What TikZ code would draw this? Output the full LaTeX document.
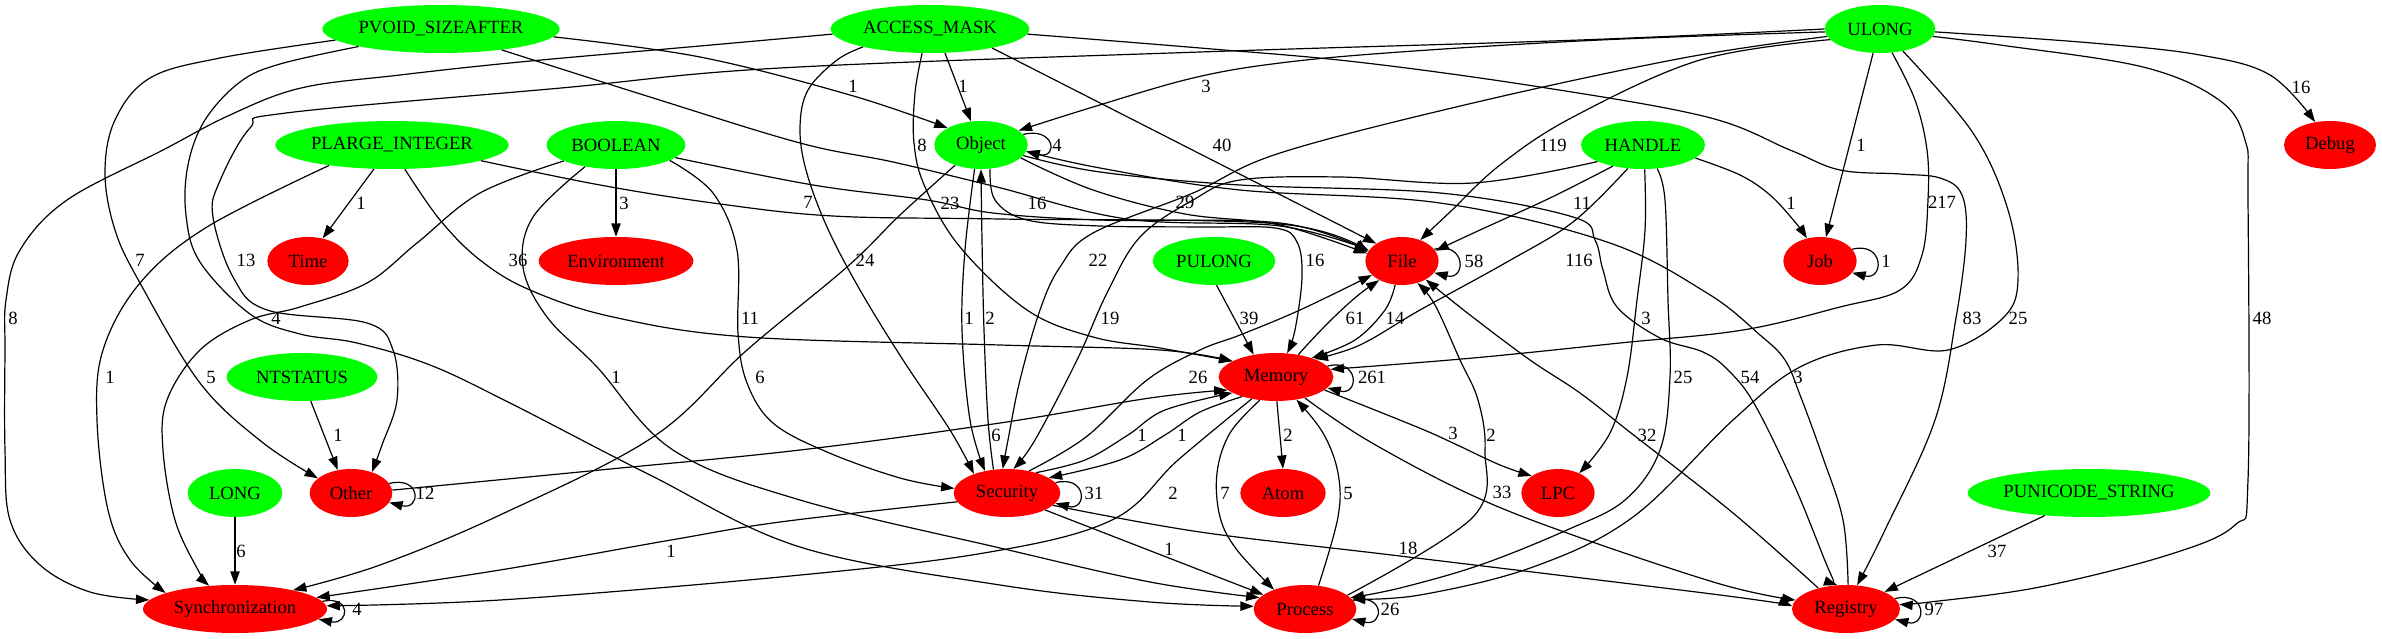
\documentclass[tikz,border=0pt]{standalone}
\usepackage{fontspec}
\setmainfont{Liberation Serif}
\usetikzlibrary{shapes.geometric,arrows.meta}

\begin{document}
\begin{tikzpicture}[x=0.75pt,y=-0.75pt,font=\fontsize{14pt}{16pt}\selectfont]
\edef\heightnode{36pt}
\tikzstyle{typenode}=[ellipse,fill=green,inner sep=0pt,minimum height=\heightnode]
\tikzstyle{catnode}=[ellipse,fill=red,inner sep=0pt,minimum height=\heightnode]
\tikzstyle{flow}=[line width=0.9pt,-{Triangle[length=10pt,width=7pt]}]
\tikzstyle{cnt}=[inner sep=0pt]
\tikzstyle{route}=[smooth,tension=0.6]

\useasboundingbox (0,0) rectangle (2382,639);

%% Draw type nodes
\node[typenode,minimum width=178pt] (PV) at (441,29) {PVOID\_SIZEAFTER};
\node[typenode,minimum width=149pt] (AM) at (930,29) {ACCESS\_MASK};
\node[typenode,minimum width=83pt] (UL) at (1880,29) {ULONG};
\node[typenode,minimum width=175pt] (PL) at (392,145) {PLARGE\_INTEGER};
\node[typenode,minimum width=104pt] (BO) at (616,145) {BOOLEAN};
\node[typenode,minimum width=70pt] (OB) at (981,145) {Object};
\node[typenode,minimum width=93pt] (HA) at (1643,145) {HANDLE};
\node[typenode,minimum width=92pt] (PU) at (1214,261) {PULONG};
\node[typenode,minimum width=113pt] (NT) at (302,377) {NTSTATUS};
\node[typenode,minimum width=71pt] (LO) at (235,493) {LONG};
\node[typenode,minimum width=182pt] (PS) at (2089,493) {PUNICODE\_STRING};

%% Draw categories
\node[catnode,minimum width=69pt] (DE) at (2330,145) {Debug};
\node[catnode,minimum width=61pt] (TI) at (308,261) {Time};
\node[catnode,minimum width=116pt] (EN) at (616,261) {Environment};
\node[catnode,minimum width=55pt] (FI) at (1402,261) {File};
\node[catnode,minimum width=55pt] (JO) at (1820,261) {Job};
\node[catnode,minimum width=86pt] (ME) at (1276,377) {Memory};
\node[catnode,minimum width=62pt] (OT) at (351,493) {Other};
\node[catnode,minimum width=80pt] (SE) at (1007,493) {Security};
\node[catnode,minimum width=64pt] (AT) at (1283,493) {Atom};
\node[catnode,minimum width=55pt] (LP) at (1558,493) {LPC};
\node[catnode,minimum width=138pt] (SY) at (235,609) {Synchronization};
\node[catnode,minimum width=77pt] (PR) at (1305,609) {Process};
\node[catnode,minimum width=81pt] (RE) at (1846,609) {Registry};

%% PVOID_SIZEAFTER
\draw[flow] plot[route] coordinates {(PV.-4) (700,57) (850,95) (OB.153)} node[cnt] at (853,86) {1};
\draw[flow] plot[route] coordinates {(PV.-19) (650,97) (800,143) (893,162) (993,186) (1127,219) (1280,226) (FI.162)} node[cnt] at (922,145) {8};
\draw[flow] plot[route] coordinates {(PV.186) (220,58) (150,78) (115,120) (105,173) (115,230) (140,283) (200,383) (262,442) (OT.156)} node[cnt] at (140,260) {7};
\draw[flow] plot[route] coordinates {(PV.192) (280,64) (240,82) (205,120) (188,165) (186,215) (200,262) (250,314) (300,334) (357,343) (430,365) (510,403) (650,475) (800,547) (1000,585) (1150,602) (PR.177)} node[cnt] at (276,318) {4};

%% ACCESS_MASK
\draw[flow] plot[route] coordinates {(AM.183) (700,46) (520,62) (400,75) (301,88) (230,115) (163,150) (67,200) (20,250) (6,300) (5,350) (5,450) (10,520) (40,565) (90,592) (SY.174)} node[cnt] at (13,318) {8};
\draw[flow] plot[route] coordinates {(AM.195) (837,60) (808,90) (800,127) (806,170) (827,227) (860,290) (903,360) (950,430) (SE.150)} node[cnt] at (865,260) {24};
\draw[flow] plot[route] coordinates {(AM.252) (915,93) (914,143) (925,187) (960,247) (1027,310) (1093,337) (1160,348) (ME.160)} node[cnt] at (950,203) {23};
\draw[flow] (AM.-58) -- (OB.113) node[cnt] at (963,86) {1};
\draw[flow] (AM.-17) -- (FI.146) node[cnt] at (1222,145) {40};
\draw[flow] plot[route] coordinates {(AM.-3) (1200,48) (1357,62) (1540,87) (1707,117) (1790,150) (1840,170) (1900,174) (1940,178) (1962,195) (1966,240) (1956,318) (1935,420) (1885,530) (RE.65)} node[cnt] at (1972,318) {83};

%% ULONG
\draw[flow] plot[route] coordinates {(UL.183) (1600,40) (1400,52) (1280,63) (1193,78) (1093,107) (OB.21)} node[cnt] at (1206,86) {3};
\draw[flow] plot[route] coordinates {(UL.-3) (2092,43) (2200,55) (2270,75) (DE.123)} node[cnt] at (2301,87) {16};
\draw[flow] plot[route] coordinates {(UL.192) (1700,60) (1573,117) (1500,165) (1450,212) (FI.49)} node[cnt] at (1553,145) {119};
\draw[flow] (UL.254) -- (JO.76) node[cnt] at (1861,145) {1};
\draw[flow] plot[route] coordinates {(UL.-63) (1915,100) (1927,150) (1928,200) (1922,255) (1900,290) (1840,307) (1743,330) (1620,343) (1473,358) (ME.8)} node[cnt] at (1942,202) {217};
\draw[flow] plot[route] coordinates {(UL.-44) (1973,133) (2008,210) (2018,280) (2003,318) (1948,350) (1877,345) (1800,367) (1733,420) (1633,517) (1533,567) (1420,595) (PR.12)} node[cnt] at (2018,318) {25};
\draw[flow] plot[route] coordinates {(UL.188) (1683,58) (1473,103) (1280,153) (1193,193) (1093,233) (1060,267) (1040,310) (1020,380) (1008,440) (SE.100)} node[cnt] at (1098,260) {22};
\draw[flow] plot[route] coordinates {(UL.-8) (2000,45) (2143,67) (2219,100) (2245,140) (2248,200) (2248,480) (2235,525) (2168,555) (2040,587) (1930,602) (RE.5)} node[cnt] at (2262,318) {48};
\draw[flow] plot[route] coordinates {(UL.180) (1580,40) (1200,52) (780,68) (561,88) (286,113) (250,128) (219,183) (213,217) (233,277) (267,310) (367,323) (393,350) (397,400) (382,445) (OT.45)} node[cnt] at (246,260) {13};

%% PLARGE_INTEGER
\draw[flow] (PL.-127) -- (TI.57) node[cnt] at (361,203) {1};
\draw[flow] plot[route] coordinates {(PL.-10) (600,185) (713,203) (833,216) (1000,219) (1280,224) (FI.166)} node[cnt] at (808,202) {7};
\draw[flow] plot[route] coordinates {(PL.-62) (440,220) (480,260) (530,290) (613,317) (747,337) (1000,345) (1160,350) (ME.160)} node[cnt] at (518,260) {36};
\draw[flow] plot[route] coordinates {(PL.198) (207,227) (140,283) (103,350) (97,420) (108,510) (130,560) (SY.167)} node[cnt] at (110,377) {1};

%% BOOLEAN
\draw[flow] (BO.-90) -- (EN.90) node[cnt] at (624,203) {3};
\draw[flow] plot[route] coordinates {(BO.-12) (813,185) (927,200) (993,213) (1100,220) (1280,223) (FI.164)} node[cnt] at (1037,203) {16};
\draw[flow] plot[route] coordinates {(BO.197) (480,193) (417,243) (367,283) (300,307) (250,320) (200,350) (167,400) (163,450) (175,520) (198,570) (SY.138)} node[cnt] at (211,377) {5};
\draw[flow] plot[route] coordinates {(BO.215) (533,217) (523,267) (547,317) (597,367) (673,450) (800,500) (1000,548) (1150,582) (PR.166)} node[cnt] at (616,377) {1};
\draw[flow] plot[route] coordinates {(BO.-16) (713,193) (737,250) (738,333) (747,383) (773,423) (827,452) (900,478) (SE.175)} node[cnt] at (750,318) {11};

%% Object
\draw[flow] (OB.14) .. controls +(32,-8) and +(32,8) .. (OB.-8) node[cnt] at (1057,145) {4};
\draw[flow] plot[route] coordinates {(OB.255) (965,250) (962,330) (970,420) (SE.135)} node[cnt] at (969,318) {1};
\draw[flow] plot[route] coordinates {(OB.218) (900,215) (847,267) (747,350) (653,437) (500,515) (380,565) (SY.18)} node[cnt] at (760,377) {6};
\draw[flow] plot[route] coordinates {(OB.-18) (1093,190) (1185,214) (1280,225) (FI.168)} node[cnt] at (1185,202) {29};
\draw[flow] plot[route] coordinates {(OB.-69) (995,200) (1027,220) (1100,226) (1200,227) (1275,228) (1297,242) (1302,277) (1295,330) (ME.65)} node[cnt] at (1315,260) {16};
\draw[flow] plot[route] coordinates {(OB.-14) (1100,172) (1240,185) (1440,193) (1573,217) (1595,240) (1603,270) (1617,307) (1660,338) (1703,352) (1728,370) (1755,405) (1795,487) (1828,568) (RE.110)} node[cnt] at (1750,377) {54};

%% HANDLE
\draw[flow] plot[route] coordinates {(HA.215) (1550,198) (1480,230) (FI.17)} node[cnt] at (1582,203) {11};
\draw[flow] plot[route] coordinates {(HA.-14) (1740,175) (1770,195) (1795,222) (JO.120)} node[cnt] at (1791,203) {1};
\draw[flow] plot[route] coordinates {(HA.237) (1573,222) (1507,262) (1420,310) (1360,345) (ME.25)} node[cnt] at (1579,260) {116};
\draw[flow] plot[route] coordinates {(HA.-86) (1645,230) (1637,300) (1627,377) (1610,433) (LP.43)} node[cnt] at (1646,318) {3};
\draw[flow] plot[route] coordinates {(HA.-59) (1665,200) (1668,300) (1670,377) (1660,450) (1625,500) (1567,530) (1480,565) (1400,588) (PR.14)} node[cnt] at (1683,377) {25};
\draw[flow] plot[route] coordinates {(HA.200) (1473,183) (1340,177) (1240,180) (1193,200) (1140,237) (1107,293) (1077,360) (1035,440) (SE.75)} node[cnt] at (1110,318) {19};

%% PULONG, NTSTATUS, LONG, PUNICODE_STRING
\draw[flow] (PU.-84) -- (ME.135) node[cnt] at (1249,318) {39};
\draw[flow] (NT.-70) -- (OT.120) node[cnt] at (338,435) {1};
\draw[flow] (LO.-90) -- (SY.90) node[cnt] at (241,551) {6};
\draw[flow] (PS.207) -- (RE.24) node[cnt] at (1997,551) {37};

%% File
\draw[flow] (FI.20) .. controls +(32,-8) and +(32,8) .. (FI.-20) node[cnt] at (1474,261) {58};
\draw[flow] plot[route] coordinates {(FI.254) (1385,310) (1355,340) (ME.28)} node[cnt] at (1395,318) {14};

%% Memory
\draw[flow] (ME.12) .. controls +(32,-8) and +(32,8) .. (ME.-12) node[cnt] at (1372,377) {261};
\draw[flow] (ME.45) .. controls (1320,330) and (1350,300) .. (FI.220) node[cnt] at (1355,318) {61};
\draw[flow] (ME.-88) -- (AT.90) node[cnt] at (1288,435) {2};
\draw[flow] plot[route] coordinates {(ME.-15) (1417,427) (1453,443) (1500,465) (LP.147)} node[cnt] at (1453,433) {3};
\draw[flow] plot[route] coordinates {(ME.235) (1230,433) (1217,473) (1220,517) (1237,550) (PR.148)} node[cnt] at (1225,493) {7};
\draw[flow] plot[route] coordinates {(ME.222) (1178,460) (1112,520) (984,553) (780,577) (500,600) (SY.2)} node[cnt] at (1173,493) {2};
\draw[flow] plot[route] coordinates {(ME.-36) (1367,440) (1467,493) (1567,533) (1720,584) (RE.170)} node[cnt] at (1502,492) {33};
\draw[flow] plot[route] coordinates {(ME.210) (1200,412) (1165,435) (1120,460) (SE.20)} node[cnt] at (1182,435) {1};

%% Other
\draw[flow] (OT.14) .. controls +(32,-8) and +(32,8) .. (OT.-14) node[cnt] at (425,493) {12};
\draw[flow] plot[route] coordinates {(OT.4) (600,470) (800,450) (1000,423) (1150,398) (ME.195)} node[cnt] at (996,435) {6};

%% Security
\draw[flow] (SE.12) .. controls +(32,-8) and +(32,8) .. (SE.-12) node[cnt] at (1094,493) {31};
\draw[flow] plot[route] coordinates {(SE.120) (988,420) (984,330) (982,240) (OB.270)} node[cnt] at (990,318) {2};
\draw[flow] plot[route] coordinates {(SE.35) (1085,460) (1128,435) (1165,410) (ME.200)} node[cnt] at (1142,435) {1};
\draw[flow] plot[route] coordinates {(SE.45) (1086,437) (1147,380) (1200,350) (1240,335) (1300,310) (FI.205)} node[cnt] at (1198,377) {26};
\draw[flow] plot[route] coordinates {(SE.190) (780,522) (671,540) (500,570) (SY.8)} node[cnt] at (671,551) {1};
\draw[flow] (SE.-24) -- (PR.161) node[cnt] at (1169,549) {1};
\draw[flow] plot[route] coordinates {(SE.-15) (1200,532) (1400,556) (1720,595) (RE.177)} node[cnt] at (1408,548) {18};

%% Process
\draw[flow] (PR.10) .. controls +(32,-8) and +(32,8) .. (PR.-12) node[cnt] at (1390,609) {26};
\draw[flow] plot[route] coordinates {(PR.18) (1473,517) (1485,450) (1478,400) (1460,360) (1435,305) (FI.-55)} node[cnt] at (1491,435) {2};
\draw[flow] plot[route] coordinates {(PR.60) (1338,517) (1338,473) (1323,433) (ME.-48)} node[cnt] at (1348,493) {5};

%% Registry
\draw[flow] (RE.12) .. controls +(32,-8) and +(32,8) .. (RE.-12) node[cnt] at (1934,609) {97};
\draw[flow] plot[route] coordinates {(RE.143) (1733,513) (1631,433) (1580,393) (1530,360) (1470,315) (FI.-38)} node[cnt] at (1647,435) {32};
\draw[flow] plot[route] coordinates {(RE.85) (1843,520) (1822,455) (1800,395) (1785,360) (1760,335) (1707,293) (1607,242) (1440,203) (1240,190) (1100,168) (OB.-8)} node[cnt] at (1798,377) {3};

%% Job and Synchronization loops
\draw[flow] (JO.20) .. controls +(32,-8) and +(32,8) .. (JO.-20) node[cnt] at (1886,261) {1};
\draw[flow] (SY.5) .. controls +(30,-6) and +(30,6) .. (SY.-7) node[cnt] at (357,609) {4};

\end{tikzpicture}
\end{document}
